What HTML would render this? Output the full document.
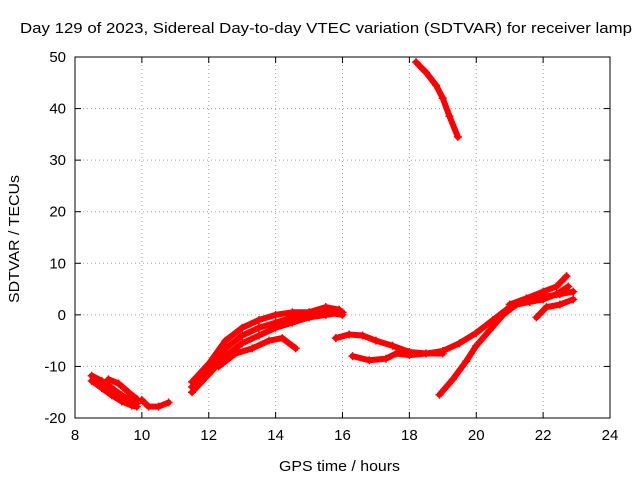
<!DOCTYPE html>
<html><head><meta charset="utf-8"><style>
body{margin:0;background:#fff}
svg text{font-family:"Liberation Sans",sans-serif;font-size:14px;fill:#000}
</style></head><body>
<svg id="chart" width="640" height="480">
<rect width="640" height="480" fill="#fff"/>
<text x="20" y="33" textLength="612" lengthAdjust="spacingAndGlyphs" style="font-size:15px">Day 129 of 2023, Sidereal Day-to-day VTEC variation (SDTVAR) for receiver lamp</text>
<g id="grid"></g>
<g id="axes"></g>
<g id="marks"></g>
<text x="279" y="471" textLength="121" lengthAdjust="spacingAndGlyphs" style="font-size:15px">GPS time / hours</text>
<text transform="translate(19,303) rotate(-90)" textLength="128" lengthAdjust="spacingAndGlyphs" style="font-size:15px">SDTVAR / TECUs</text>
</svg>
<script>
const xTicks=[8,10,12,14,16,18,20,22,24];
const yTicks=[-20,-10,0,10,20,30,40,50];
const track1T=[8.5,8.8,9.1,9.4,9.7,9.85];
const track1V=[-11.8,-12.8,-14.2,-15.6,-16.8,-17.2];
const track2T=[8.5,8.8,9.1,9.4,9.7,9.85];
const track2V=[-12.8,-14.2,-15.6,-16.8,-17.6,-17.8];
const track3T=[9.0,9.3,9.6,9.85];
const track3V=[-12.5,-13.3,-15.0,-16.3];
const track4T=[10.0,10.2,10.5,10.8];
const track4V=[-16.5,-17.8,-17.8,-17.0];
const track5T=[11.5,12.0,12.5,13.0,13.5,14.0,14.5,15.0,15.5,15.9];
const track5V=[-13.0,-9.5,-5.0,-2.5,-1.0,0.0,0.5,0.5,1.5,1.0];
const track6T=[11.5,12.0,12.5,13.0,13.5,14.0,14.5,15.0,15.5,16.0];
const track6V=[-15.0,-11.5,-8.0,-5.5,-4.0,-2.5,-1.5,-0.5,0.0,0.5];
const track7T=[11.5,12.0,12.5,13.0,13.5,14.0,14.5,15.0,15.5,16.0];
const track7V=[-14.0,-10.5,-6.5,-4.0,-2.5,-1.5,-0.5,0.0,0.5,0.0];
const track8T=[12.3,12.8,13.3,13.8,14.2,14.6];
const track8V=[-10.0,-7.5,-6.5,-5.0,-4.5,-6.5];
const track9T=[15.8,16.2,16.6,17.0,17.5,18.0,18.5,19.0,19.5,20.0,20.5,21.0,21.5,22.0,22.5,22.9];
const track9V=[-4.5,-3.8,-4.0,-5.0,-6.0,-7.2,-7.5,-7.0,-5.5,-3.5,-1.0,1.5,2.8,3.5,4.0,4.5];
const track10T=[16.3,16.8,17.3,17.6,18.0,18.5,19.0];
const track10V=[-8.0,-8.8,-8.5,-7.5,-7.8,-7.5,-7.5];
const track11T=[18.9,19.3,19.7,20.0,20.4,20.8,21.2,21.6,22.0,22.4,22.75];
const track11V=[-15.5,-12.5,-9.0,-6.0,-3.0,0.0,2.0,2.5,3.0,4.0,5.5];
const track12T=[21.0,21.5,22.0,22.4,22.7];
const track12V=[2.0,3.2,4.5,5.5,7.5];
const track13T=[21.8,22.1,22.5,22.9];
const track13V=[-0.5,1.5,2.0,3.0];
const track14T=[18.2,18.5,18.8,19.0,19.2,19.45];
const track14V=[49.0,47.0,44.5,42.0,38.5,34.5];
const tracksT=[track1T,track2T,track3T,track4T,track5T,track6T,track7T,track8T,track9T,track10T,track11T,track12T,track13T,track14T];
const tracksV=[track1V,track2V,track3V,track4V,track5V,track6V,track7V,track8V,track9V,track10V,track11V,track12V,track13V,track14V];

const X0=75,X1=610,Y0=418,Y1=57;
const sx=t=>X0+(t-8)/(24-8)*(X1-X0);
const sy=v=>Y0-(v+20)/70*(Y0-Y1);
const NS="http://www.w3.org/2000/svg";
function mk(tag,attrs,parent){const e=document.createElementNS(NS,tag);for(const k in attrs)e.setAttribute(k,attrs[k]);parent.appendChild(e);return e;}
const grid=document.getElementById('grid'),axes=document.getElementById('axes'),marks=document.getElementById('marks');
xTicks.forEach(t=>{const x=sx(t);
 if(t>8&&t<24){const g=mk('line',{x1:x,x2:x,y1:Y1,y2:Y0,stroke:'#a0a0a0','stroke-dasharray':'1,3'},grid);}
 mk('line',{x1:x,x2:x,y1:Y0,y2:Y0-6,stroke:'#000'},axes);mk('line',{x1:x,x2:x,y1:Y1,y2:Y1+6,stroke:'#000'},axes);
 const l=mk('text',{x:x,y:Y0+22,'text-anchor':'middle',style:'font-size:15px'},axes);l.textContent=t;
 });
yTicks.forEach(v=>{const y=sy(v);
 if(v>-20&&v<50){const g=mk('line',{x1:X0,x2:X1,y1:y,y2:y,stroke:'#a0a0a0','stroke-dasharray':'1,3'},grid);}
 mk('line',{x1:X0,x2:X0+6,y1:y,y2:y,stroke:'#000'},axes);mk('line',{x1:X1,x2:X1-6,y1:y,y2:y,stroke:'#000'},axes);
 const l=mk('text',{x:X0-9,y:y+5,'text-anchor':'end',style:'font-size:15px'},axes);l.textContent=v;
 });
mk('rect',{x:X0,y:Y1,width:X1-X0,height:Y0-Y1,fill:'none',stroke:'#000'},axes);
tracksT.forEach((T,i)=>{const V=tracksV[i];
 const pts=T.map((t,j)=>sx(t)+','+sy(V[j])).join(' ');
 const p=mk('polyline',{points:pts,fill:'none',stroke:'#ff0000','stroke-width':6,'stroke-linejoin':'round','stroke-linecap':'round'},marks);
 
 T.forEach((t,j)=>{const x=sx(t),y=sy(V[j]);
  const m=mk('path',{d:`M${x-4},${y}h8M${x},${y-4}v8`,stroke:'#ff0000','stroke-width':1.5},marks);
  });
});
</script>
</body></html>
